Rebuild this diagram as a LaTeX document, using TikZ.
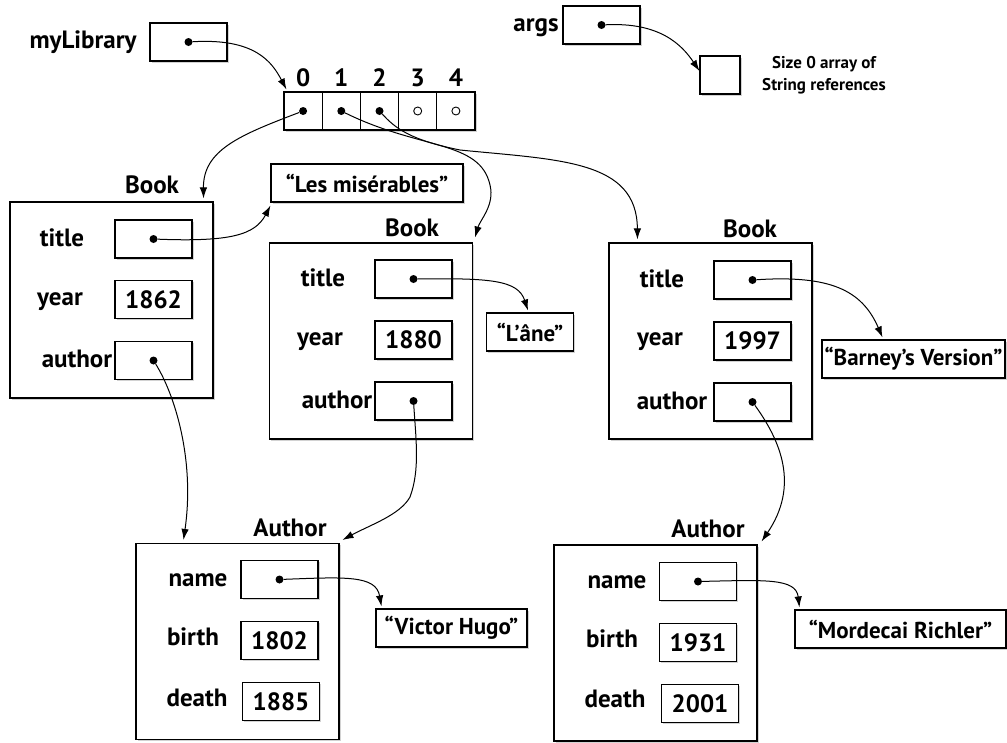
\documentclass[tikz,border=0pt]{standalone}
\usepackage{fontspec}
\setmainfont{PT Sans}
\usetikzlibrary{positioning,arrows.meta,shadows}

\begin{document}
\begin{tikzpicture}[x=1pt,y=-1pt,
		font=\fontsize{25}{29}\selectfont\bfseries,
		boxshadow/.style={drop shadow={shadow xshift=1.5pt,shadow yshift=-1.5pt,opacity=0.35}},
		objbox/.style={draw,fill=white,line width=1.1pt,minimum width=203pt,minimum height=196pt,inner sep=0pt,boxshadow},
		fieldbox/.style={draw,fill=white,line width=1.1pt,minimum width=77pt,minimum height=38pt,inner sep=0pt,boxshadow},
		cellbox/.style={draw,fill=white,line width=1.1pt,minimum width=38.2pt,minimum height=38pt,inner sep=0pt,boxshadow},
		strbox/.style={draw,fill=white,line width=1.1pt,minimum height=38pt,inner sep=0pt,boxshadow,font=\fontsize{23}{27}\selectfont\bfseries},
		lbl/.style={inner sep=0pt,text height=17pt,text depth=5pt},
		refdot/.style={circle,fill=black,inner sep=0pt,minimum size=8pt},
		nulldot/.style={circle,draw,line width=0.9pt,inner sep=0pt,minimum size=8pt},
		refarrow/.style={line width=1pt,-{Latex[length=11pt,width=7.5pt]}}]
		\useasboundingbox[fill=white] (0,0) rectangle (1007,742);

		% variables on the stack
		\node[lbl]						(libl)	at (83,42)		{myLibrary};
		\node[fieldbox]					(lib)	at (188.5,42)	{};
		\node[refdot]					(libd)	at (lib)		{};
		\node[lbl]						(argsl)	at (536,25)		{args};
		\node[fieldbox]					(args)	at (601.5,25)	{};
		\node[refdot]					(argsd)	at (args)		{};
		\node[fieldbox,minimum width=40pt]	(empty)	at (720,75)		{};
		\node[align=center,font=\fontsize{17}{22}\selectfont\bfseries]	(emptyl)	at (824,75)	{Size 0 array of\\String references};

		% the array
		\node[cellbox]					(c0)	at (303.1,111)	{};
		\node[cellbox]					(c1)	at (341.3,111)	{};
		\node[cellbox]					(c2)	at (379.5,111)	{};
		\node[cellbox]					(c3)	at (417.7,111)	{};
		\node[cellbox]					(c4)	at (455.9,111)	{};
		\node[lbl]						(i0)	at (303.1,80)	{0};
		\node[lbl]						(i1)	at (341.3,80)	{1};
		\node[lbl]						(i2)	at (379.5,80)	{2};
		\node[lbl]						(i3)	at (417.7,80)	{3};
		\node[lbl]						(i4)	at (455.9,80)	{4};
		\node[refdot]					(c0d)	at (c0)			{};
		\node[refdot]					(c1d)	at (c1)			{};
		\node[refdot]					(c2d)	at (c2)			{};
		\node[nulldot]					(c3d)	at (c3)			{};
		\node[nulldot]					(c4d)	at (c4)			{};

		% first book
		\node[lbl]						(b1l)	at (152,187)	{Book};
		\node[objbox]					(b1)	at (111.5,300)	{};
		\node[fieldbox]					(b1t)	at (153.5,239)	{};
		\node[fieldbox]					(b1y)	at (153.5,299.5)	{1862};
		\node[fieldbox]					(b1a)	at (153.5,360.5)	{};
		\node[lbl]						(b1tl)	at (62,240)		{title};
		\node[lbl]						(b1yl)	at (60,299)		{year};
		\node[lbl]						(b1al)	at (77,361)		{author};
		\node[refdot]					(b1td)	at (b1t)		{};
		\node[refdot]					(b1ad)	at (b1a)		{};

		% second book
		\node[lbl]						(b2l)	at (412,230)	{Book};
		\node[objbox]					(b2)	at (371,341)	{};
		\node[fieldbox]					(b2t)	at (413.5,279)	{};
		\node[fieldbox]					(b2y)	at (413.5,340)	{1880};
		\node[fieldbox]					(b2a)	at (413.5,401)	{};
		\node[lbl]						(b2tl)	at (323,280)	{title};
		\node[lbl]						(b2yl)	at (320,339)	{year};
		\node[lbl]						(b2al)	at (337,402)	{author};
		\node[refdot]					(b2td)	at (b2t)		{};
		\node[refdot]					(b2ad)	at (b2a)		{};

		% third book
		\node[lbl]						(b3l)	at (750,231)	{Book};
		\node[objbox]					(b3)	at (710.5,341)	{};
		\node[fieldbox]					(b3t)	at (752.5,280)	{};
		\node[fieldbox]					(b3y)	at (752.5,341)	{1997};
		\node[fieldbox]					(b3a)	at (752.5,402)	{};
		\node[lbl]						(b3tl)	at (662,281)	{title};
		\node[lbl]						(b3yl)	at (660,339)	{year};
		\node[lbl]						(b3al)	at (672,403)	{author};
		\node[refdot]					(b3td)	at (b3t)		{};
		\node[refdot]					(b3ad)	at (b3a)		{};

		% first author
		\node[lbl]						(a1l)	at (290,530)	{Author};
		\node[objbox]					(a1)	at (237.5,641.5)	{};
		\node[fieldbox]					(a1n)	at (279.5,579.5)	{};
		\node[fieldbox]					(a1b)	at (279.5,640.5)	{1802};
		\node[fieldbox]					(a1x)	at (281,701.5)	{1885};
		\node[lbl]						(a1nl)	at (198,580)	{name};
		\node[lbl]						(a1bl)	at (193,639)	{birth};
		\node[lbl]						(a1xl)	at (197,700)	{death};
		\node[refdot]					(a1nd)	at (a1n)		{};

		% second author
		\node[lbl]						(a2l)	at (708,531)	{Author};
		\node[objbox]					(a2)	at (655.5,643)	{};
		\node[fieldbox]					(a2n)	at (698,581.5)	{};
		\node[fieldbox]					(a2b)	at (698,642.5)	{1931};
		\node[fieldbox]					(a2x)	at (700,703.5)	{2001};
		\node[lbl]						(a2nl)	at (617,582)	{name};
		\node[lbl]						(a2bl)	at (612,641)	{birth};
		\node[lbl]						(a2xl)	at (615,701)	{death};
		\node[refdot]					(a2nd)	at (a2n)		{};

		% strings
		\node[strbox,minimum width=192pt]	(lesm)	at (367,183)	{“Les misérables”};
		\node[strbox,minimum width=87pt]	(lane)	at (530,332)	{“L’âne”};
		\node[strbox,minimum width=183pt]	(barn)	at (913.5,359)	{“Barney’s Version”};
		\node[strbox,minimum width=151pt]	(hugo)	at (451.5,628)	{“Victor Hugo”};
		\node[strbox,minimum width=211pt]	(rich)	at (900.5,629)	{“Mordecai Richler”};

		\draw[refarrow] (libd) .. controls (255,38) and (272,62) .. ([xshift=3pt,yshift=2pt]c0.north west);
		\draw[refarrow] (argsd) .. controls (660,22) and (682,45) .. ([yshift=4pt]empty.west);
		\draw[refarrow] (c0d) .. controls (240,135) and (203,150) .. ([xshift=-10pt,yshift=3pt]b1.north east);
		\draw[refarrow] (c1d) .. controls (420,150) and (480,140) .. (490,185) .. controls (495,205) and (480,220) .. ([xshift=2pt,yshift=5pt]b2.north east);
		\draw[refarrow] (c2d) .. controls (395,128) and (410,140) .. (460,150) .. controls (560,160) and (637,160) .. ([xshift=29pt,yshift=3pt]b3.north west);
		\draw[refarrow] (b1td) .. controls (230,242) and (255,235) .. ([yshift=-3pt]lesm.south west);
		\draw[refarrow] (b2td) .. controls (490,278) and (518,280) .. ([xshift=-2pt,yshift=2pt]lane.north);
		\draw[refarrow] (b3td) .. controls (830,275) and (862,290) .. ([xshift=-31pt,yshift=2pt]barn.north);
		\draw[refarrow] (b1ad) .. controls (175,395) and (195,460) .. ([xshift=-54pt,yshift=3pt]a1.north);
		\draw[refarrow] (b2ad) .. controls (416,440) and (420,470) .. (410,497) .. controls (400,515) and (370,525) .. ([xshift=3pt,yshift=3pt]a1.north east);
		\draw[refarrow] (b3ad) .. controls (780,440) and (800,485) .. ([xshift=4pt,yshift=3pt]a2.north east);
		\draw[refarrow] (a1nd) .. controls (345,577) and (376,575) .. ([xshift=6pt,yshift=2pt]hugo.north west);
		\draw[refarrow] (a2nd) .. controls (765,580) and (796,578) .. ([xshift=5pt,yshift=2pt]rich.north west);
	\end{tikzpicture}
\end{document}
